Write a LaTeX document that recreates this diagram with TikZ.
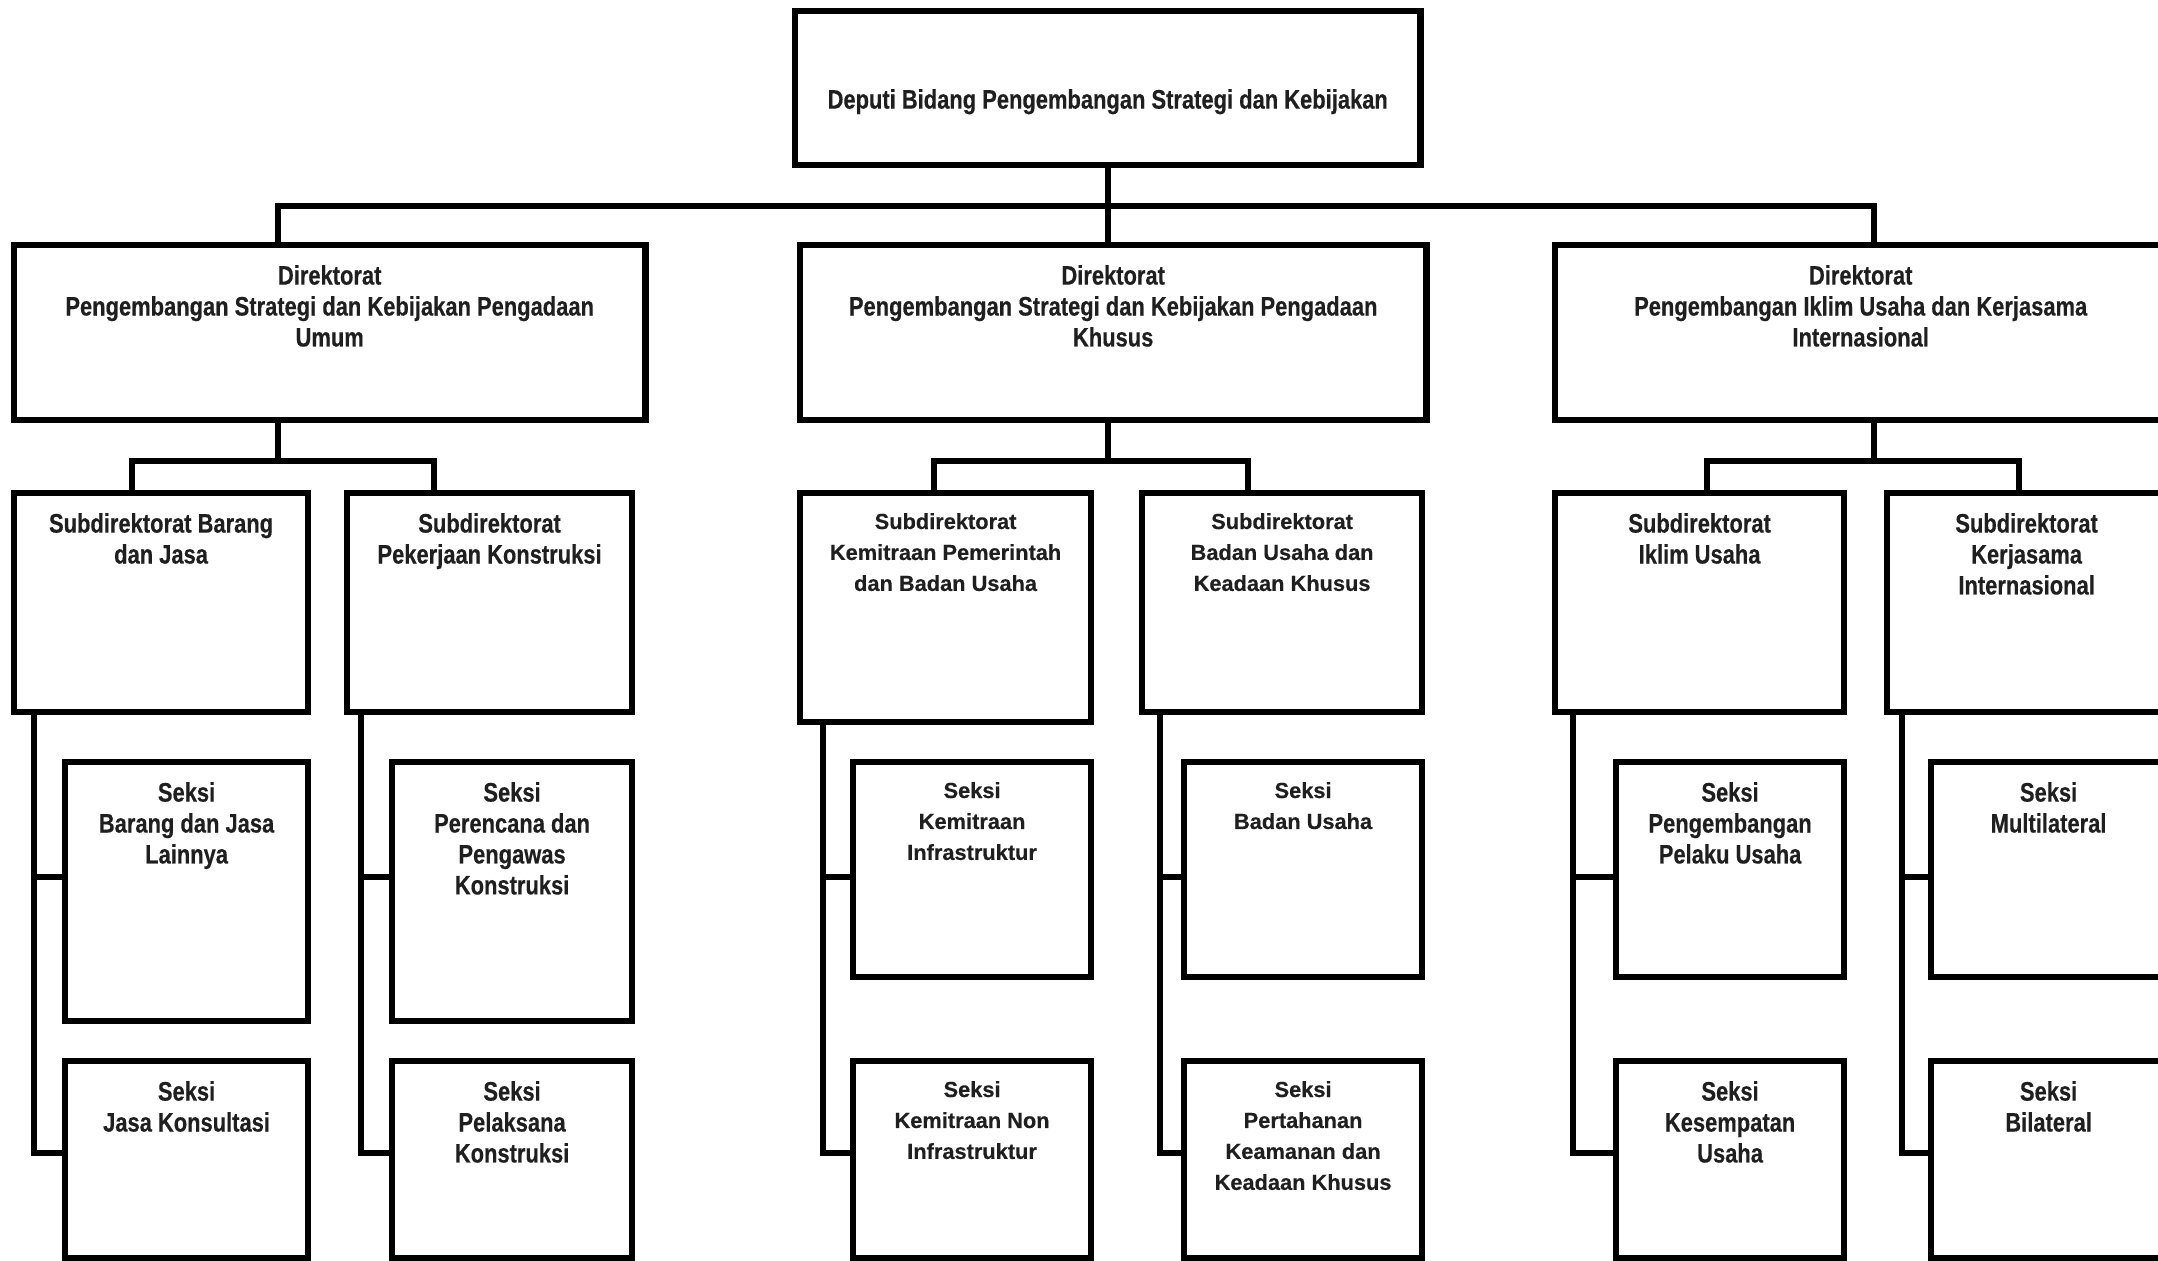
\documentclass[tikz,border=0pt]{standalone}
\usepackage{fontspec}
\setmainfont{Liberation Sans}
\newfontfamily\narrowsans[FakeStretch=0.82,FakeBold=0.35]{Liberation Sans}
\newfontfamily\widesans[FakeBold=0.3]{Liberation Sans}
\usetikzlibrary{positioning,calc}

\begin{document}
\begin{tikzpicture}[x=0.01cm,y=-0.01cm,%
      box/.style={draw,line width=1.85pt,anchor=north west,outer sep=0pt,inner sep=0pt},%
      lbl/.style={align=center,inner sep=0pt,text=black!88,font={\narrowsans\bfseries\fontsize{7.6}{8.8}\selectfont}},%
      lblw/.style={lbl,font={\widesans\bfseries\fontsize{6.2}{8.8}\selectfont}},%
      link/.style={line width=1.65pt}]
      \useasboundingbox (0,0) rectangle (2158,1261);
      \fill[white] (0,0) rectangle (2158,1261);
      \clip (0,0) rectangle (2158,1261);

      % % Deputi
      \node[box,minimum width=6.25cm,minimum height=1.54cm] (dep) at (795,11) {};
      \node[lbl,below=0.775cm of dep.north] (dept) {Deputi Bidang Pengembangan Strategi dan Kebijakan};

      % % Direktorat
      \node[box,minimum width=6.31cm,minimum height=1.75cm] (d1) at (14,245) {};
      \node[box,minimum width=6.26cm,minimum height=1.75cm] (d2) at (800,245) {};
      \node[box,minimum width=6.11cm,minimum height=1.75cm] (d3) at (1555,245) {};
      \node[lbl,below=0.195cm of d1.north] (d1t) {Direktorat\\Pengembangan Strategi dan Kebijakan Pengadaan\\Umum};
      \node[lbl,below=0.195cm of d2.north] (d2t) {Direktorat\\Pengembangan Strategi dan Kebijakan Pengadaan\\Khusus};
      \node[lbl,below=0.195cm of d3.north] (d3t) {Direktorat\\Pengembangan Iklim Usaha dan Kerjasama\\Internasional};

      % % Subdirektorat
      \node[box,minimum width=2.94cm,minimum height=2.19cm] (s1) at (14,493) {};
      \node[box,minimum width=2.85cm,minimum height=2.19cm] (s2) at (347,493) {};
      \node[box,minimum width=2.91cm,minimum height=2.29cm] (s3) at (800,493) {};
      \node[box,minimum width=2.80cm,minimum height=2.19cm] (s4) at (1142,493) {};
      \node[box,minimum width=2.89cm,minimum height=2.19cm] (s5) at (1555,493) {};
      \node[box,minimum width=2.79cm,minimum height=2.19cm] (s6) at (1887,493) {};
      \node[lbl,below=0.195cm of s1.north] (s1t) {Subdirektorat Barang\\dan Jasa};
      \node[lbl,below=0.195cm of s2.north] (s2t) {Subdirektorat\\Pekerjaan Konstruksi};
      \node[lblw,below=0.195cm of s3.north] (s3t) {Subdirektorat\\Kemitraan Pemerintah\\dan Badan Usaha};
      \node[lblw,below=0.195cm of s4.north] (s4t) {Subdirektorat\\Badan Usaha dan\\Keadaan Khusus};
      \node[lbl,below=0.195cm of s5.north] (s5t) {Subdirektorat\\Iklim Usaha};
      \node[lbl,below=0.195cm of s6.north] (s6t) {Subdirektorat\\Kerjasama\\Internasional};

      % % Seksi, top row
      \node[box,minimum width=2.43cm,minimum height=2.59cm] (k1a) at (65,762) {};
      \node[box,minimum width=2.40cm,minimum height=2.59cm] (k2a) at (392,762) {};
      \node[box,minimum width=2.38cm,minimum height=2.15cm] (k3a) at (853,762) {};
      \node[box,minimum width=2.38cm,minimum height=2.15cm] (k4a) at (1184,762) {};
      \node[box,minimum width=2.28cm,minimum height=2.15cm] (k5a) at (1616,762) {};
      \node[box,minimum width=2.35cm,minimum height=2.15cm] (k6a) at (1931,762) {};
      \node[lbl,below=0.195cm of k1a.north] (k1at) {Seksi\\Barang dan Jasa\\Lainnya};
      \node[lbl,below=0.195cm of k2a.north] (k2at) {Seksi\\Perencana dan\\Pengawas\\Konstruksi};
      \node[lblw,below=0.195cm of k3a.north] (k3at) {Seksi\\Kemitraan\\Infrastruktur};
      \node[lblw,below=0.195cm of k4a.north] (k4at) {Seksi\\Badan Usaha};
      \node[lbl,below=0.195cm of k5a.north] (k5at) {Seksi\\Pengembangan\\Pelaku Usaha};
      \node[lbl,below=0.195cm of k6a.north] (k6at) {Seksi\\Multilateral};

      % % Seksi, bottom row
      \node[box,minimum width=2.43cm,minimum height=1.97cm] (k1b) at (65,1061) {};
      \node[box,minimum width=2.40cm,minimum height=1.97cm] (k2b) at (392,1061) {};
      \node[box,minimum width=2.38cm,minimum height=1.97cm] (k3b) at (853,1061) {};
      \node[box,minimum width=2.38cm,minimum height=1.97cm] (k4b) at (1184,1061) {};
      \node[box,minimum width=2.28cm,minimum height=1.97cm] (k5b) at (1616,1061) {};
      \node[box,minimum width=2.35cm,minimum height=1.97cm] (k6b) at (1931,1061) {};
      \node[lbl,below=0.195cm of k1b.north] (k1bt) {Seksi\\Jasa Konsultasi};
      \node[lbl,below=0.195cm of k2b.north] (k2bt) {Seksi\\Pelaksana\\Konstruksi};
      \node[lblw,below=0.195cm of k3b.north] (k3bt) {Seksi\\Kemitraan Non\\Infrastruktur};
      \node[lblw,below=0.195cm of k4b.north] (k4bt) {Seksi\\Pertahanan\\Keamanan dan\\Keadaan Khusus};
      \node[lbl,below=0.195cm of k5b.north] (k5bt) {Seksi\\Kesempatan\\Usaha};
      \node[lbl,below=0.195cm of k6b.north] (k6bt) {Seksi\\Bilateral};

      % Top level lines
      \coordinate (j1) at (278,206);
      \coordinate (j3) at (1874,206);
      \draw[link] (dep.south) -- (dep.south |- d2.north);
      \draw[link] (j1 |- d1.north) -- (j1) -- (j3) -- (j3 |- d3.north);

      % Direktorat to Subdirektorat
      \coordinate (b1l) at (132,461);
      \coordinate (b1r) at (434,461);
      \coordinate (b2l) at (934,461);
      \coordinate (b2r) at (1248,461);
      \coordinate (b3l) at (1707,461);
      \coordinate (b3r) at (2019,461);
      \draw[link] (j1 |- d1.south) -- (j1 |- b1l);
      \draw[link] (b1l |- s1.north) -- (b1l) -- (b1r) -- (b1r |- s2.north);
      \draw[link] (dep.south |- d2.south) -- (dep.south |- b2l);
      \draw[link] (b2l |- s3.north) -- (b2l) -- (b2r) -- (b2r |- s4.north);
      \draw[link] (j3 |- d3.south) -- (j3 |- b3l);
      \draw[link] (b3l |- s5.north) -- (b3l) -- (b3r) -- (b3r |- s6.north);

      % Subdirektorat to Seksi
      \coordinate (r1) at (0,877);
      \coordinate (r2) at (0,1153);
      \coordinate (p1) at (34,0);
      \coordinate (p2) at (361,0);
      \coordinate (p3) at (823,0);
      \coordinate (p4) at (1160,0);
      \coordinate (p5) at (1573,0);
      \coordinate (p6) at (1902,0);
      \draw[link] (p1 |- s1.south) |- (k1b.west |- r2);
      \draw[link] (p1 |- r1) -- (k1a.west |- r1);
      \draw[link] (p2 |- s2.south) |- (k2b.west |- r2);
      \draw[link] (p2 |- r1) -- (k2a.west |- r1);
      \draw[link] (p3 |- s3.south) |- (k3b.west |- r2);
      \draw[link] (p3 |- r1) -- (k3a.west |- r1);
      \draw[link] (p4 |- s4.south) |- (k4b.west |- r2);
      \draw[link] (p4 |- r1) -- (k4a.west |- r1);
      \draw[link] (p5 |- s5.south) |- (k5b.west |- r2);
      \draw[link] (p5 |- r1) -- (k5a.west |- r1);
      \draw[link] (p6 |- s6.south) |- (k6b.west |- r2);
      \draw[link] (p6 |- r1) -- (k6a.west |- r1);
\end{tikzpicture}
\end{document}
